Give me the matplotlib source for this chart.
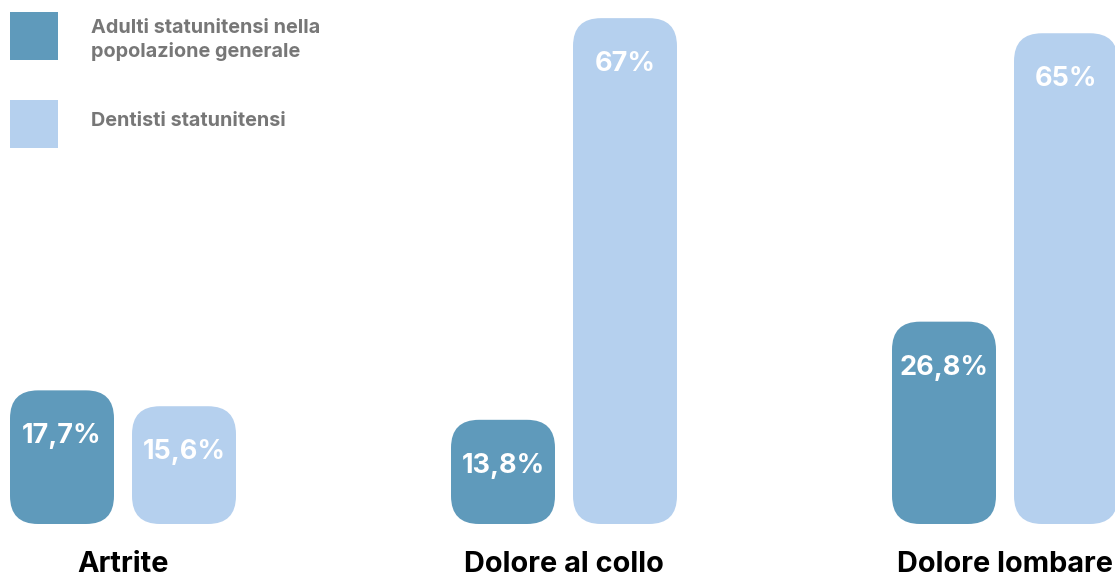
import matplotlib
matplotlib.use("Agg")
import matplotlib.pyplot as plt
from matplotlib.patches import FancyBboxPatch, Rectangle

categories = ["Artrite", "Dolore al collo", "Dolore lombare"]
series_names = ["Adulti statunitensi nella\npopolazione generale", "Dentisti statunitensi"]
adulti = [17.7, 13.8, 26.8]
dentisti = [15.6, 67, 65]
adulti_labels = ["17,7%", "13,8%", "26,8%"]
dentisti_labels = ["15,6%", "67%", "65%"]

DARK = "#5f9abb"
LIGHT = "#b5d0ee"
W, H = 1115, 576

plt.rcParams['font.family'] = ['Inter', 'DejaVu Sans']

fig = plt.figure(figsize=(W / 100, H / 100), dpi=100)
base = 524
ax = fig.add_axes([0, (H - base) / H, 1, base / H])
px_x = 441.0          # pixels per group
px_y = 7.55           # pixels per percent
ax.set_xlim(-123 / px_x, (W - 123) / px_x)
ax.set_ylim(0, base / px_y)
ax.axis("off")

bw = 104 / px_x
off = (104 + 18) / 2 / px_x
radius = 28 / px_x
aspect = px_x / px_y

for i, cat in enumerate(categories):
    for val, lab, col, sign in [(adulti[i], adulti_labels[i], DARK, -1),
                                (dentisti[i], dentisti_labels[i], LIGHT, 1)]:
        x0 = i + sign * off - bw / 2
        p = FancyBboxPatch((x0, 0), bw, val,
                           boxstyle=f"round,pad=0,rounding_size={radius}",
                           mutation_aspect=aspect, fc=col, ec="none",
                           clip_on=False)
        ax.add_patch(p)
        ax.text(i + sign * off, val - 46 / px_y, lab, ha="center", va="center",
                color="white", fontsize=19.5, fontweight="bold", clip_on=False)
    ax.text(i, -40 / px_y, cat, ha="center", va="center", color="black",
            fontsize=20.8, fontweight="bold", clip_on=False)

# legend
for (ytop, col, name) in [(12, DARK, series_names[0]), (100, LIGHT, series_names[1])]:
    fig.add_artist(Rectangle((10 / W, (H - ytop - 48) / H), 48 / W, 48 / H,
                             transform=fig.transFigure, fc=col, ec="none"))
for ytxt, name in [(40, series_names[0]), (121, series_names[1])]:
    fig.text(91 / W, (H - ytxt) / H, name, ha="left", va="center", color="#777777",
             fontsize=14.3, fontweight="bold", linespacing=1.35)

fig.savefig("out.png", dpi=100)
